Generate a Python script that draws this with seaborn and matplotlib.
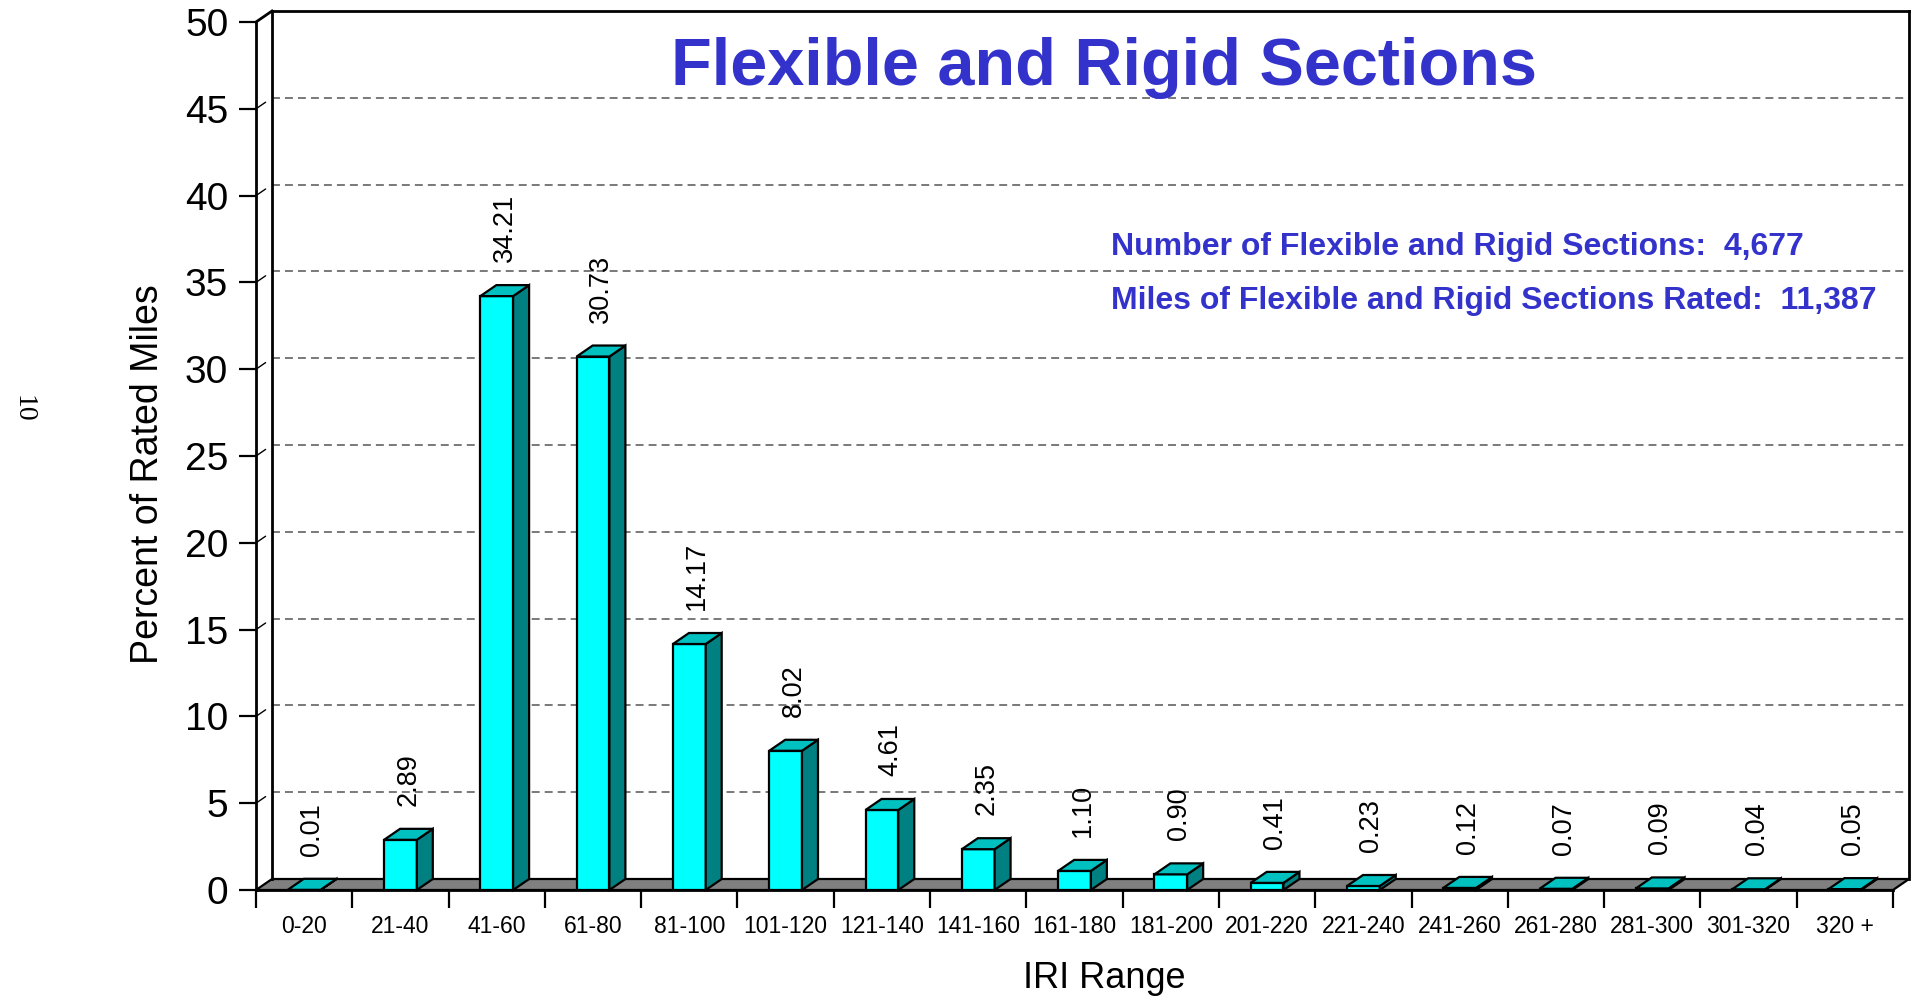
import matplotlib
matplotlib.use("Agg")
import matplotlib.pyplot as plt
import seaborn as sns
import pandas as pd
from matplotlib.patches import Polygon
from matplotlib.lines import Line2D

# ---- data -------------------------------------------------------------
categories = ["0-20", "21-40", "41-60", "61-80", "81-100", "101-120", "121-140",
              "141-160", "161-180", "181-200", "201-220", "221-240", "241-260",
              "261-280", "281-300", "301-320", "320 +"]
percent = [0.01, 2.89, 34.21, 30.73, 14.17, 8.02, 4.61, 2.35, 1.10, 0.90,
           0.41, 0.23, 0.12, 0.07, 0.09, 0.04, 0.05]
y_ticks = [0, 5, 10, 15, 20, 25, 30, 35, 40, 45, 50]
title = "Flexible and Rigid Sections"
info_lines = ["Number of Flexible and Rigid Sections:  4,677",
              "Miles of Flexible and Rigid Sections Rated:  11,387"]
page_number = "10"

# ---- style ------------------------------------------------------------
sns.set_theme(style="white")
plt.rcParams["font.family"] = ["Liberation Sans", "DejaVu Sans"]

FRONT = "#00FFFF"
SIDE = "#008080"
TOP = "#00C0C0"
FLOOR = "#808080"
BLUE = "#3333CC"

W, H = 1917, 998
fig = plt.figure(figsize=(W / 100, H / 100), dpi=100)
fig.patch.set_facecolor("white")

# plot area (front plane) in pixels
L, R, B, T = 256, 1893, 890, 22
ax = fig.add_axes([L / W, 1 - B / H, (R - L) / W, (B - T) / H])
ax.set_facecolor("none")

df = pd.DataFrame({"IRI Range": categories, "Percent": percent})
sns.barplot(data=df, x="IRI Range", y="Percent", color=FRONT, saturation=1,
            width=0.34, edgecolor="black", linewidth=1.6, ax=ax, zorder=4)

n = len(categories)
ax.set_xlim(-0.5, n - 0.5)
ax.set_ylim(0, 50)

# depth of the pseudo-3D projection, in data units
DX_PX, DY_PX = 16, 11
dx = DX_PX / ((R - L) / n)
dy = DY_PX / ((B - T) / 50)

x0, x1 = -0.5, n - 0.5
# floor
ax.add_patch(Polygon([(x0, 0), (x1, 0), (x1 + dx, dy), (x0 + dx, dy)],
                     closed=True, facecolor=FLOOR, edgecolor="black",
                     linewidth=1.6, zorder=2, clip_on=False))

# back wall grid lines and frame
for t in y_ticks[1:-1]:
    ax.add_line(Line2D([x0 + dx, x1 + dx], [t + dy, t + dy], color="#555555",
                       linewidth=1.1, linestyle=(0, (5.2, 3.3)), zorder=1,
                       clip_on=False))
    ax.add_line(Line2D([x0, x0 + dx * 0.6], [t, t + dy * 0.6], color="black",
                       linewidth=1.0, zorder=1, clip_on=False))
frame = [([x0 + dx, x0 + dx], [dy, 50 + dy]),
         ([x0 + dx, x1 + dx], [50 + dy, 50 + dy]),
         ([x1 + dx, x1 + dx], [dy, 50 + dy]),
         ([x0, x0 + dx], [50, 50 + dy])]
for xs, ys in frame:
    ax.add_line(Line2D(xs, ys, color="black", linewidth=2.0, zorder=3,
                       clip_on=False, solid_capstyle="projecting"))

# side and top faces of each bar, plus value labels
for patch, val in zip(ax.patches[:n], percent):
    bx0 = patch.get_x()
    bw = patch.get_width()
    bx1 = bx0 + bw
    h = patch.get_height()
    ax.add_patch(Polygon([(bx1, 0), (bx1, h), (bx1 + dx, h + dy), (bx1 + dx, dy)],
                         closed=True, facecolor=SIDE, edgecolor="black",
                         linewidth=1.6, zorder=4, clip_on=False))
    ax.add_patch(Polygon([(bx0, h), (bx1, h), (bx1 + dx, h + dy), (bx0 + dx, h + dy)],
                         closed=True, facecolor=TOP, edgecolor="black",
                         linewidth=1.6, zorder=5, clip_on=False))
    ax.annotate(f"{val:.2f}", xy=(bx0 + bw / 2, h), xytext=(8 * 0.72, 34 * 0.72),
                textcoords="offset points", rotation=90, ha="center", va="bottom",
                fontsize=19.5, color="black", zorder=6)

# axes lines and ticks
for side in ["top", "right"]:
    ax.spines[side].set_visible(False)
for side in ["left", "bottom"]:
    ax.spines[side].set_visible(True)
    ax.spines[side].set_color("black")
    ax.spines[side].set_linewidth(2.0)
    ax.spines[side].set_zorder(3)

ax.set_yticks(y_ticks)
ax.set_yticklabels([str(t) for t in y_ticks])
ax.set_xticks(range(n))
ax.set_xticklabels(categories)
ax.set_xticks([i - 0.5 for i in range(n + 1)], minor=True)
ax.tick_params(axis="y", which="major", left=True, length=12, width=1.6,
               direction="out", labelsize=28, pad=8, colors="black")
ax.tick_params(axis="x", which="major", bottom=True, length=0, labelsize=16.5,
               pad=18, colors="black")
ax.tick_params(axis="x", which="minor", bottom=True, length=13, width=1.6,
               direction="out", colors="black")
ax.set_xlabel("")
ax.set_ylabel("")
ax.grid(False)

# titles and annotations
fig.text(1104 / W, 1 - 68 / H, title, ha="center", va="center", fontsize=48,
         fontweight="bold", color=BLUE)
fig.text(1111 / W, 1 - 247 / H, info_lines[0], ha="left", va="center",
         fontsize=23, fontweight="bold", color=BLUE)
fig.text(1111 / W, 1 - 301 / H, info_lines[1], ha="left", va="center",
         fontsize=23, fontweight="bold", color=BLUE)
fig.text(148 / W, 1 - 474 / H, "Percent of Rated Miles", rotation=90,
         ha="center", va="center", fontsize=27, color="black")
fig.text(1104 / W, 1 - 978 / H, "IRI Range", ha="center", va="center",
         fontsize=26, color="black")
fig.text(23 / W, 1 - 409 / H, page_number, rotation=270, ha="center",
         va="center", fontsize=20, family=["Liberation Serif", "DejaVu Serif"],
         color="black")

fig.savefig("out.png", dpi=100, facecolor="white")
